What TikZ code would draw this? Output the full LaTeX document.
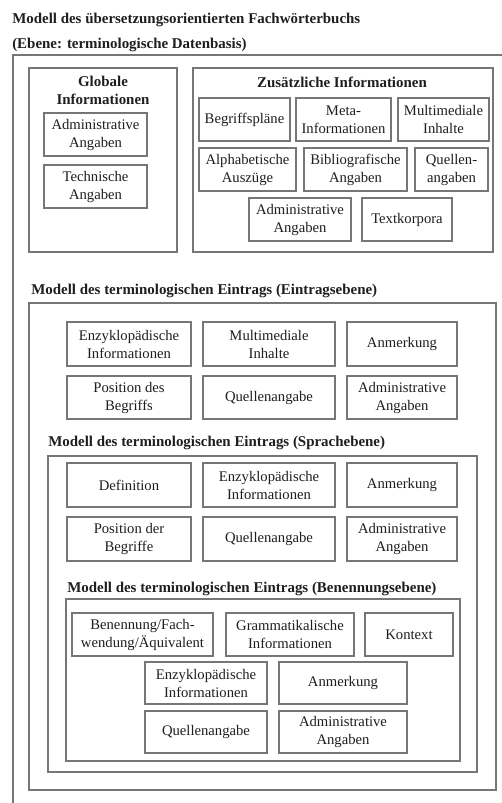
\documentclass[tikz,border=0pt]{standalone}
\usepackage{fontspec}
\setmainfont{Liberation Serif}
\definecolor{framegray}{HTML}{767676}
\definecolor{inkgray}{HTML}{1E1E1E}
% item box given by its corners (x1,y1) and (x2,y2) in drawing units
\newcommand\itembx[6]{%
  \node[itembox, minimum width={(#4-#2)*0.75pt}, minimum height={(#5-#3)*0.75pt}]
    (#1) at ({(#2+#4)/2},{(#3+#5)/2}) {#6};}
\newcommand\framebx[5]{%
  \node[framebox, minimum width={(#4-#2)*0.75pt}, minimum height={(#5-#3)*0.75pt}]
    (#1) at ({(#2+#4)/2},{(#3+#5)/2}) {};}
\begin{document}
\begin{tikzpicture}[x=0.75pt, y=-0.75pt,
  itembox/.style={draw=framegray, line width=0.9pt, inner sep=0pt, align=center,
    text=inkgray, font=\fontsize{11}{13.5}\selectfont},
  framebox/.style={draw=framegray, line width=0.9pt, inner sep=0pt},
  heading/.style={inner sep=0pt, text=inkgray, font=\bfseries\fontsize{11.2}{13}\selectfont},
  lefthead/.style={heading, anchor=west}]
\useasboundingbox[fill=white] (0,0) rectangle (502,803);

% main titles
\node[lefthead] (t1) at (12,20) {Modell des übersetzungsorientierten Fachwörterbuchs};
\node[lefthead] (t2) at (12,45) {(Ebene: terminologische Datenbasis)};

% outer frame (open to the right and bottom)
\draw[framegray, line width=0.9pt] (13,803) -- (13,55) -- (502,55);

% global information
\framebx{gBox}{29}{68}{177}{252}
\node[heading, align=center] (gHead) at (103,90.5) {Globale\\Informationen};
\itembx{gAdm}{44}{113}{147}{156}{Administrative\\Angaben}
\itembx{gTech}{44}{165}{147}{208}{Technische\\Angaben}

% additional information
\framebx{zBox}{193}{68}{493}{252}
\node[heading] (zHead) at (342,82) {Zusätzliche Informationen};
\itembx{zBeg}{199}{98}{290}{141}{Begriffspläne}
\itembx{zMeta}{296}{98}{391}{141}{Meta-\\Informationen}
\itembx{zMulti}{398}{98}{489}{141}{Multimediale\\Inhalte}
\itembx{zAlpha}{199}{148}{296}{191}{Alphabetische\\Auszüge}
\itembx{zBib}{304}{148}{407}{191}{Bibliografische\\Angaben}
\itembx{zQuel}{415}{148}{488}{191}{Quellen-\\angaben}
\itembx{zAdm}{249}{198}{351}{241}{Administrative\\Angaben}
\itembx{zText}{362}{198}{452}{241}{Textkorpora}

% entry level
\node[lefthead] (eHead) at (31,291) {Modell des terminologischen Eintrags (Eintragsebene)};
\framebx{eBox}{29}{303}{496}{790}
\itembx{eEnz}{67}{322}{191}{366}{Enzyklopädische\\Informationen}
\itembx{eMulti}{203}{322}{335}{366}{Multimediale\\Inhalte}
\itembx{eAnm}{347}{322}{457}{366}{Anmerkung}
\itembx{ePos}{67}{376}{191}{419}{Position des\\Begriffs}
\itembx{eQuel}{203}{376}{335}{419}{Quellenangabe}
\itembx{eAdm}{347}{376}{457}{419}{Administrative\\Angaben}

% language level
\node[lefthead] (sHead) at (48,443) {Modell des terminologischen Eintrags (Sprachebene)};
\framebx{sBox}{48}{456}{477}{772}
\itembx{sDef}{67}{463}{191}{507}{Definition}
\itembx{sEnz}{203}{463}{335}{507}{Enzyklopädische\\Informationen}
\itembx{sAnm}{347}{463}{457}{507}{Anmerkung}
\itembx{sPos}{67}{517}{191}{561}{Position der\\Begriffe}
\itembx{sQuel}{203}{517}{335}{561}{Quellenangabe}
\itembx{sAdm}{347}{517}{457}{561}{Administrative\\Angaben}

% term level
\node[lefthead] (bHead) at (67,589) {Modell des terminologischen Eintrags (Benennungsebene)};
\framebx{bBox}{66}{599}{460}{761}
\itembx{bBen}{72}{613}{213}{656}{Benennung/Fach-\\wendung/Äquivalent}
\itembx{bGram}{226}{613}{354}{656}{Grammatikalische\\Informationen}
\itembx{bKon}{365}{613}{453}{656}{Kontext}
\itembx{bEnz}{145}{662}{267}{704}{Enzyklopädische\\Informationen}
\itembx{bAnm}{279}{662}{407}{704}{Anmerkung}
\itembx{bQuel}{145}{711}{267}{753}{Quellenangabe}
\itembx{bAdm}{279}{711}{407}{753}{Administrative\\Angaben}
\end{tikzpicture}
\end{document}
